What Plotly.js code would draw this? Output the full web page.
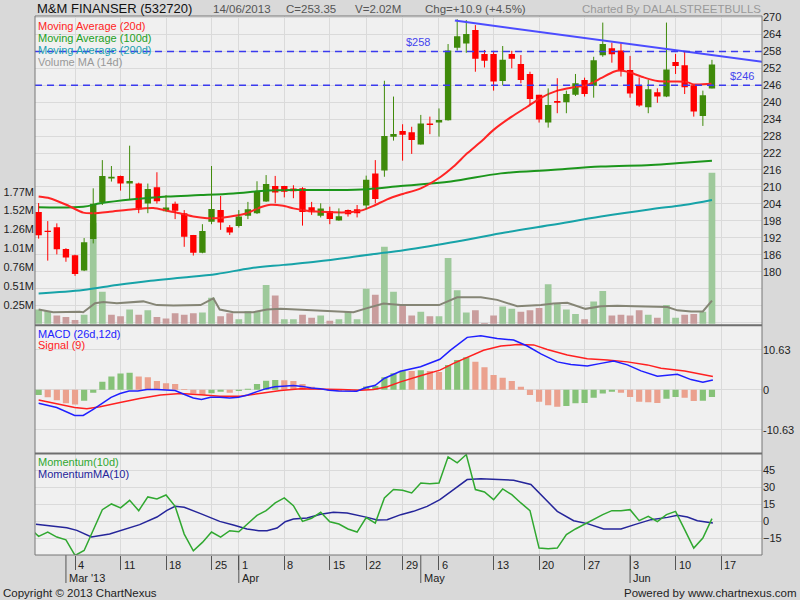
<!DOCTYPE html>
<html>
<head>
<meta charset="utf-8">
<script src="https://cdn.plot.ly/plotly-3.0.1.min.js"></script>
<style>html,body{margin:0;padding:0;background:#d9d9d9;}#chart{width:800px;height:600px;}</style>
</head>
<body>
<div id="chart"></div>
<script>
// ---------------- DATA ----------------
const openP  = [201.1,194.5,195.7,188.0,185.8,180.4,191.6,204.5,213.0,213.9,211.2,211.2,204.1,209.9,201.4,204.0,200.7,193.0,186.7,197.7,201.8,195.7,196.2,199.8,200.7,204.8,210.3,210.3,209.4,209.5,202.8,199.8,201.5,198.1,201.8,202.1,203.4,214.8,215.8,227.8,229.8,229.4,225.0,232.5,232.8,233.6,259.3,260.8,265.6,257.1,257.1,247.5,257.1,253.5,250.0,242.6,232.8,240.4,240.0,242.6,247.9,245.8,256.6,259.1,258.3,251.4,245.9,238.2,243.5,242.0,254.2,253.1,246.0,235.1,244.9];
const highP  = [204.3,197.9,197.1,188.3,186.0,191.9,209.5,219.5,217.4,214.0,224.6,211.5,211.2,215.2,207.1,204.8,201.8,193.0,196.8,217.4,206.8,196.5,201.8,204.7,212.0,214.2,213.9,210.4,210.6,209.9,204.7,204.2,203.0,202.4,202.0,203.6,214.0,219.5,247.6,242.0,232.2,231.3,235.5,234.9,237.8,260.6,269.4,269.1,267.3,258.5,258.2,259.9,258.2,256.7,250.8,242.6,244.9,248.5,244.1,250.0,248.7,256.1,268.2,261.1,260.9,256.4,248.8,247.9,244.9,268.2,257.1,257.9,246.0,244.1,255.0];
const lowP   = [191.7,183.9,186.1,183.5,178.5,180.2,190.0,203.6,211.9,208.7,205.7,200.7,200.7,204.1,201.3,198.6,188.8,185.7,186.5,196.8,194.8,193.0,195.6,198.6,200.4,204.7,204.2,206.3,206.0,196.3,200.1,199.2,196.8,198.0,199.5,199.2,202.1,204.2,213.6,226.4,219.3,221.7,225.0,228.7,227.8,233.5,258.3,257.5,250.8,252.3,244.1,246.0,252.0,246.7,239.0,232.8,231.0,236.1,236.1,242.2,242.0,241.6,256.1,254.0,249.1,241.6,238.4,236.1,239.8,241.8,250.0,242.9,234.9,231.6,244.9];
const closeP = [192.9,194.0,187.9,185.0,179.2,190.4,204.0,213.9,213.6,211.2,212.1,202.1,209.3,204.9,202.7,201.6,192.4,186.7,194.4,202.2,197.4,193.9,199.5,202.1,208.3,211.0,208.0,208.3,208.5,201.1,201.0,202.4,198.6,199.6,200.3,200.7,212.5,205.7,228.0,228.7,228.5,226.6,232.5,231.9,233.7,258.3,263.4,264.2,255.4,254.7,247.3,255.0,255.4,247.9,241.1,233.9,239.0,239.8,242.9,246.7,242.9,254.9,260.6,257.0,251.2,243.1,238.8,244.6,242.0,251.6,252.8,245.3,236.7,242.45,253.35];
const volumeM = [0.19,0.17,0.11,0.09,0.05,0.12,1.35,0.43,0.12,0.10,0.19,0.12,0.18,0.09,0.07,0.14,0.12,0.14,0.15,0.35,0.10,0.14,0.06,0.17,0.17,0.52,0.38,0.06,0.06,0.12,0.08,0.11,0.04,0.06,0.16,0.06,0.47,0.39,1.03,0.43,0.24,0.11,0.16,0.10,0.10,0.88,0.45,0.15,0.18,0.01,0.11,0.23,0.20,0.16,0.18,0.21,0.53,0.27,0.19,0.13,0.06,0.30,0.44,0.11,0.12,0.11,0.18,0.12,0.08,0.25,0.08,0.12,0.13,0.16,2.02];

const ma20X = [0,1.2,3.1,4.9,6,7.8,10.4,12.6,14.1,15.5,17,18.5,19.9,21.4,22.9,24.4,25.5,26.9,28,29.5,31,32.4,33.9,35.4,36.8,38.3,39.8,42,44.2,45.6,47.1,48.6,50,52,53.7,55.1,57,58.8,60.3,61.8,63.2,63.9,65,66.5,68,69.8,71.2,72,74];
const ma20Y = [206.6,206,203.6,200.9,200.7,201.2,202.1,202.5,201.6,200.7,199.5,198.9,199,199.7,200.7,202.8,203.7,203.3,202.4,201.6,201.2,201,201,201.6,203.3,205.6,207.3,209.5,213.6,217.2,221.9,226,230.2,234.9,238.4,241.4,244.1,245.3,246.1,248.5,250.8,251.2,250.5,248.8,247.5,247.3,247.2,246.3,246.5];
const ma100X = [0,4.9,6.8,10.4,14.1,17.8,21.4,25.1,28.8,32.4,36.1,39.8,45.3,50.8,56.3,61.8,67.3,70.9,74];
const ma100Y = [202.8,203,204.2,205.6,206.6,207.1,207.7,208.7,208.9,208.9,209.2,210.3,211.9,214.8,216,217.2,217.8,218.6,219.3];
const ma200X = [0,4.9,8.6,12.3,15.9,19.6,23.3,26.9,30.6,34.3,37.9,39.8,45.3,50.8,56.3,61.8,67.3,70.9,74];
const ma200Y = [172.3,173.5,175.3,176.8,177.9,179.2,181.2,182.4,183.6,185.1,186.7,187.4,190.3,193.6,196.5,199.5,202.1,203.6,205.4];
const volMaX = [0,1.6,4.5,4.9,6.2,7.1,8.6,11.5,13,14.8,17.8,19.2,19.9,21.4,23.6,25.1,26.6,28.8,31,32.4,34.6,36.1,37.9,39.8,44,46,48.6,50.4,52.6,55.2,56.6,58.1,60.1,61.8,63.6,65.5,69.1,70.2,71.7,73,74];
const volMaY = [0.19,0.155,0.16,0.155,0.275,0.29,0.275,0.30,0.25,0.245,0.25,0.34,0.19,0.155,0.155,0.19,0.2,0.19,0.17,0.165,0.155,0.21,0.27,0.25,0.25,0.355,0.355,0.32,0.235,0.25,0.27,0.28,0.2,0.235,0.24,0.235,0.225,0.18,0.165,0.165,0.31];

const trendX = [45.75, 79.6];
const trendY = [268.9, 254.3];
const levels = [258, 246];
const levelLabels = ['$258', '$246'];
const levelLabelX = [40.1, 75.8];

const macdHist = [-1.4,-2.0,-2.8,-3.6,-3.9,-2.9,-0.8,2.1,3.5,4.3,4.5,3.5,3.3,2.3,1.7,1.5,0.2,-1.0,-1.4,-0.9,-0.5,-0.8,-0.3,0.3,1.5,2.4,2.6,2.5,2.3,1.5,0.8,0.3,-0.3,-0.4,-0.2,-0.1,0.9,1.0,3.3,4.4,5.05,4.95,5.2,4.95,4.7,6.6,7.9,8.6,7.4,6.0,3.9,3.2,2.3,0.8,-1.4,-3.2,-4.1,-4.5,-4.3,-3.6,-3.5,-2.1,-1.0,-0.5,-0.8,-1.9,-3.2,-3.3,-3.5,-2.4,-1.9,-2.1,-3.0,-2.9,-1.9];
const macdX = [0,1.98,3.96,4.9,6.0,6.97,7.96,8.95,9.94,10.9,11.9,13,14.1,15,15.96,17,17.9,18.9,19.9,21,21.97,22.97,24,25,25.97,26.97,28,29,29.97,30.96,31.95,32.97,33.97,34.96,35.99,37,37.97,38.96,39.77,41.97,44.1,45.27,47.1,48.6,50.4,52.2,53.7,55.2,57,58.5,60.3,61.8,63.2,64.7,66.2,68,70.2,71.7,73,74.1];
const macdY = [-3.6,-4.7,-6.8,-6.8,-5.2,-3.5,-2.0,-1.0,-0.35,-0.35,0.1,0.1,-0.1,-0.2,-1.2,-2.2,-2.6,-2.0,-2.0,-2.2,-2.0,-1.4,-0.5,0.3,0.8,1.0,1.15,0.9,0.5,0.3,-0.1,-0.3,-0.35,-0.4,0.6,1.2,3.0,4.0,4.9,6.1,8.1,10.5,13.9,14.3,13.6,13.2,11.6,9.5,7.4,6.7,6.3,7.0,7.6,6.6,5.0,3.6,4.1,2.7,2.0,2.6];
const signalX = [0,1.98,3.96,5.3,6.75,8.95,11.1,13.4,15.6,17.8,19.9,22.2,24.4,26.6,28.8,30.96,33.2,35.4,36.8,38.3,39.77,41.97,44.1,45.6,47.1,48.9,50.8,52.6,54.4,55.9,58.1,60.3,62.5,64.7,66.9,68.4,71,72.8,74.1];
const signalY = [-2.7,-3.6,-4.7,-5.05,-4.5,-3.4,-2.3,-1.4,-1.0,-1.3,-1.7,-1.7,-1.0,-0.2,0.27,0.27,0.1,-0.1,0.1,0.8,2.1,3.7,5.2,7.0,8.6,10.5,11.6,12.0,11.9,10.7,9.2,8.2,7.9,7.4,6.6,5.7,5.0,4.1,3.5];

const momX = [-1,0,1,2,3,4,5,6,7,8,9,10,11,12,13,14,15,16,17,18,19,20,21,22,23,24,25,26,27,28,29,30,31,32,33,34,35,36,37,38,39,40,41,42,43,44,45,46,47,48,49,50,51,52,53,54,55,56,57,58,59,60,61,62,63,64,65,66,67,68,69,70,71,72,73,74];
const momY = [-6,-13.2,-9.4,-13.8,-16.2,-30,-25.6,-7.3,10.3,15.3,11.8,18.5,9.4,21.5,19.7,23.2,13.2,-11.2,-25.9,-18.5,-9.4,-13.8,-8.2,-9.1,-2.3,5.3,9.4,16.2,20.6,13.8,0,2.7,8,-0.3,-2.3,-6.7,-9.4,3.3,-1.5,20.6,28,27.4,25,33.8,33,33.8,56.8,51.5,58.8,28,25.9,19.1,28.5,23.5,16.2,9.4,-23.5,-24.1,-23.5,-11.7,-6.7,-2.3,2.1,5.9,9.4,9.4,10.3,0.6,4.4,-0.3,5.9,8.8,-7.3,-23.5,-14.7,2.4];
const momMaX = [-0.3,3.1,4.2,5.8,7.8,8.95,11.1,13,14.1,15,16,17.8,19.9,21.4,22.9,24.2,25.1,26.2,27.1,28,29.5,31,32.4,33.9,35.4,36.1,37.2,38.3,39.8,41.2,42.7,44.1,45.6,47.1,48.6,50.8,52.2,54.1,55.2,57,58.8,60.3,62.1,64,65.5,67.3,69.1,70.2,71.3,72.4,74.1];
const momMaY = [-2.6,-5.6,-7.9,-13.8,-11.2,-8.2,-2.9,3.8,9.7,13.2,12.4,6.8,0,-3.2,-6.7,-8.2,-8.2,-5.9,-0.3,2.1,3.0,6.2,8,7.4,5,3.5,1.2,1.5,5.9,8.8,13.2,19.1,28,36.8,37.4,36.8,36.2,32.4,23.5,8.8,0.6,-2,-6.7,-6.7,-2.9,1.5,3.5,5.3,3.8,0.6,-1.5];

// tick labels
const weekIdx = [4,9,14,19,22,27,32,36,40,44,50,55,60,65,70,75];
const weekLabels = ['4','11','18','25','1','8','15','22','29','6','13','20','27','3','10','17'];
const monthIdx = [3,22,42,65];
const monthLabels = ["Mar '13",'Apr','May','Jun'];
const priceTicks = [162,168,174,180,186,192,198,204,210,216,222,228,234,240,246,252,258,264,270];
const volTicks = [0.2525,0.505,0.7575,1.01,1.2625,1.515,1.7675];
const volTickText = ['0.25M','0.51M','0.76M','1.01M','1.26M','1.52M','1.77M'];
const macdTicks = [-10.63,0,10.63];
const momTicks = [-15,0,15,30,45];

const header = {date:'14/06/2013', close:'C=253.35', vol:'V=2.02M', chg:'Chg=+10.9 (+4.5%)', credit:'Charted By DALALSTREETBULLS'};

// ---------------- BUILD ----------------
const FONT = 'Liberation Sans, Arial, sans-serif';
const L=35, R=762, T=16, B=555, W=R-L, H=B-T;
const fx = px => (px-L)/W;
const fy = py => (B-py)/H;
const mainBottom = fy(325.3), macdBottom = fy(453.5);

const idx = closeP.map((_, i) => i);
const UP='#3f8a0a', DN='#ff0000';
const candleCol = idx.map(i => closeP[i] >= openP[i] ? UP : DN);
const bodyBase = idx.map(i => Math.min(openP[i], closeP[i]));
const bodyLen = idx.map(i => Math.max(Math.abs(closeP[i]-openP[i]), 0.35));
const volCol = idx.map(i => (i===0 || closeP[i] >= closeP[i-1]) ? '#9ec99b' : '#c99d9d');
const histCol = idx.map(i => (i===0 || macdHist[i] >= macdHist[i-1]) ? '#86c278' : '#eba18e');

function wicks(col){
  const xs=[], ys=[];
  idx.forEach(i => { if (candleCol[i]===col){ xs.push(i,i,null); ys.push(lowP[i],highP[i],null);} });
  return {x:xs,y:ys};
}
const wu = wicks(UP), wd = wicks(DN);

const traces = [
  {type:'bar', x:idx, y:volumeM, xaxis:'x', yaxis:'y', width:0.74, marker:{color:volCol, line:{width:0}}, hoverinfo:'skip'},
  {type:'scatter', mode:'lines', x:volMaX, y:volMaY, xaxis:'x', yaxis:'y', line:{color:'#858575', width:2}, hoverinfo:'skip'},
  {type:'scatter', mode:'lines', x:ma200X, y:ma200Y, xaxis:'x', yaxis:'y4', line:{color:'#17a3a8', width:2, shape:'spline'}, hoverinfo:'skip'},
  {type:'scatter', mode:'lines', x:ma100X, y:ma100Y, xaxis:'x', yaxis:'y4', line:{color:'#1c961c', width:2, shape:'spline'}, hoverinfo:'skip'},
  {type:'scatter', mode:'lines', x:ma20X, y:ma20Y, xaxis:'x', yaxis:'y4', line:{color:'#ff2424', width:2, shape:'spline', smoothing:0.6}, hoverinfo:'skip'},
  {type:'scatter', mode:'lines', x:wu.x, y:wu.y, xaxis:'x', yaxis:'y4', line:{color:UP, width:1}, connectgaps:false, hoverinfo:'skip'},
  {type:'scatter', mode:'lines', x:wd.x, y:wd.y, xaxis:'x', yaxis:'y4', line:{color:DN, width:1}, connectgaps:false, hoverinfo:'skip'},
  {type:'bar', x:idx, y:bodyLen, base:bodyBase, xaxis:'x', yaxis:'y4', width:0.7, marker:{color:candleCol, line:{width:0}}, hoverinfo:'skip'},
  {type:'scatter', mode:'lines', x:trendX, y:trendY, xaxis:'x', yaxis:'y4', line:{color:'#4c4cff', width:2}, hoverinfo:'skip'},
  // MACD
  {type:'bar', x:idx, y:macdHist, xaxis:'x', yaxis:'y2', width:0.68, marker:{color:histCol, line:{width:0}}, hoverinfo:'skip'},
  {type:'scatter', mode:'lines', x:signalX, y:signalY, xaxis:'x', yaxis:'y2', line:{color:'#ff2020', width:1.5}, hoverinfo:'skip'},
  {type:'scatter', mode:'lines', x:macdX, y:macdY, xaxis:'x', yaxis:'y2', line:{color:'#1f1fff', width:1.5}, hoverinfo:'skip'},
  // Momentum
  {type:'scatter', mode:'lines', x:momMaX, y:momMaY, xaxis:'x', yaxis:'y3', line:{color:'#25259a', width:1.5}, hoverinfo:'skip'},
  {type:'scatter', mode:'lines', x:momX, y:momY, xaxis:'x', yaxis:'y3', line:{color:'#30a830', width:1.5}, hoverinfo:'skip'}
];

const tickFont = {family:FONT, size:11, color:'#222'};
const GRID = '#dadada';

const annotations = [];
function txt(text, px, py, color, size, anchor){
  annotations.push({text:text, xref:'paper', yref:'paper', x:fx(px), y:fy(py), xanchor:anchor||'left', yanchor:'middle',
    showarrow:false, font:{family:FONT, size:size||11, color:color}, borderpad:0});
}
txt(header.date, 212, 8.5, '#555', 11.5);
txt(header.close, 285, 8.5, '#555', 11.5);
txt(header.vol, 354, 8.5, '#555', 11.5);
txt(header.chg, 424, 8.5, '#555', 11.5);
txt(header.credit, 762, 8.5, '#9a9a9a', 11.5, 'right');
txt('Moving Average (20d)', 37, 25.5, '#ff2424', 11);
txt('Moving Average (100d)', 37, 37.7, '#23a023', 11);
txt('Moving Average (200d)', 37, 50, '#1a9fb0', 11);
txt('Volume MA (14d)', 37, 61.8, '#999999', 11);
txt('MACD (26d,12d)', 37, 334, '#2222ff', 11);
txt('Signal (9)', 37, 345.5, '#ff2020', 11);
txt('Momentum(10d)', 37, 462, '#30a830', 11);
txt('MomentumMA(10)', 37, 473.5, '#25259a', 11);
txt('Copyright \u00a9 2013 ChartNexus', 2, 593, '#222', 11.5);
txt('Powered by www.chartnexus.com', 798, 593, '#222', 11.5, 'right');

weekIdx.forEach((v,i) => annotations.push({text:weekLabels[i], xref:'x', yref:'paper', x:v, y:fy(565), xanchor:'left', yanchor:'middle', xshift:1, showarrow:false, font:tickFont}));
monthIdx.forEach((v,i) => annotations.push({text:monthLabels[i], xref:'x', yref:'paper', x:v, y:fy(577.5), xanchor:'left', yanchor:'middle', xshift:1, showarrow:false, font:tickFont}));
levels.forEach((v,i) => annotations.push({text:levelLabels[i], xref:'x', yref:'y4', x:levelLabelX[i], y:v, xanchor:'left', yanchor:'bottom', yshift:1, showarrow:false, font:{family:FONT, size:11, color:'#4444ee'}}));

const shapes = [];
levels.forEach(v => shapes.push({type:'line', xref:'paper', yref:'y4', x0:0, x1:1, y0:v, y1:v, line:{color:'#3a3aee', width:1.5, dash:'7px,5px'}}));
monthIdx.forEach(v => shapes.push({type:'line', xref:'x', yref:'paper', x0:v, x1:v, y0:0, y1:fy(583), line:{color:'#555', width:1}}));
shapes.push({type:'rect', xref:'paper', yref:'paper', x0:0, x1:1, y0:0, y1:1, line:{color:'#777', width:1}});
shapes.push({type:'line', xref:'paper', yref:'paper', x0:0, x1:1, y0:mainBottom, y1:mainBottom, line:{color:'#6e6e6e', width:2}});
shapes.push({type:'line', xref:'paper', yref:'paper', x0:0, x1:1, y0:macdBottom, y1:macdBottom, line:{color:'#6e6e6e', width:2}});

const layout = {
  width:800, height:600, autosize:false,
  paper_bgcolor:'#d9d9d9', plot_bgcolor:'#f0f0f0',
  margin:{l:L, r:800-R, t:T, b:600-B},
  showlegend:false, barmode:'overlay', hovermode:false,
  font:{family:FONT, size:11, color:'#222'},
  title:{text:'M&M FINANSER (532720)', x:37/800, xanchor:'left', xref:'container', y:1-8.5/600, yref:'container', yanchor:'middle', font:{family:FONT, size:13, color:'#111'}},
  xaxis:{anchor:'y3', range:[-0.4,79.5], tickmode:'array', tickvals:weekIdx, showticklabels:false, ticks:'outside', ticklen:14, tickcolor:'#555', tickwidth:1,
         showgrid:true, gridcolor:GRID, gridwidth:1, zeroline:false, showline:false, fixedrange:true},
  yaxis:{domain:[mainBottom,1], range:[-0.02,4.117], side:'left', tickmode:'array', tickvals:volTicks, ticktext:volTickText, showgrid:false, zeroline:false, ticks:'', tickfont:tickFont, fixedrange:true},
  yaxis4:{overlaying:'y', side:'right', range:[161.0,270.53], tickmode:'array', tickvals:priceTicks, ticktext:priceTicks.map(v => v>=180 ? String(v) : ''),
          showgrid:true, gridcolor:GRID, zeroline:false, ticks:'', tickfont:tickFont, fixedrange:true},
  yaxis2:{domain:[macdBottom,mainBottom], anchor:'x', side:'right', range:[-16.9,17.1], tickmode:'array', tickvals:macdTicks, ticktext:macdTicks.map(v => v===0?'0':v.toFixed(2)),
          showgrid:true, gridcolor:GRID, zeroline:false, ticks:'', tickfont:tickFont, fixedrange:true},
  yaxis3:{domain:[0,macdBottom], anchor:'x', side:'right', range:[-29.6,59.7], tickmode:'array', tickvals:momTicks,
          showgrid:true, gridcolor:GRID, zeroline:false, ticks:'', tickfont:tickFont, fixedrange:true},
  annotations:annotations, shapes:shapes
};

Plotly.newPlot('chart', traces, layout, {staticPlot:true, displayModeBar:false});
</script>
</body>
</html>
